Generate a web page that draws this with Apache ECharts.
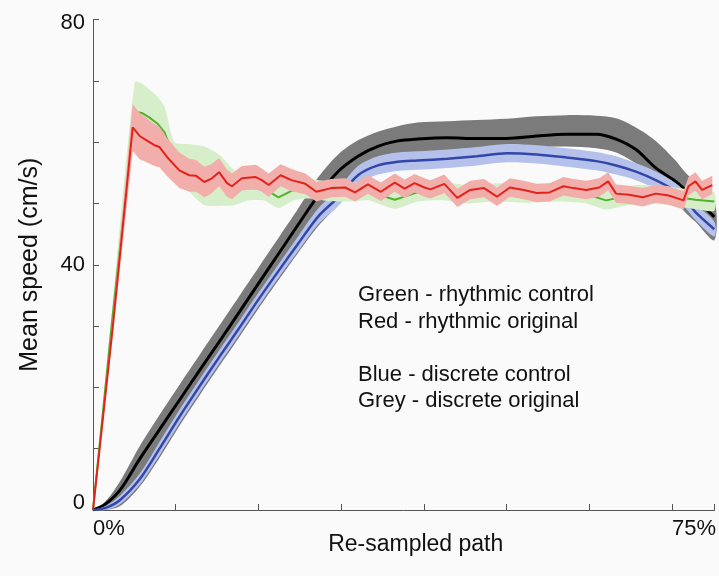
<!DOCTYPE html>
<html>
<head>
<meta charset="utf-8">
<title>Mean speed</title>
<script src="https://cdn.jsdelivr.net/npm/echarts@6/dist/echarts.min.js"></script>
<style>
  html, body { margin: 0; padding: 0; background: #fafafa; }
  #chart { width: 719px; height: 576px; }
</style>
</head>
<body>
<div id="chart"></div>
<script>
// discrete movements (grey = original, blue = control), x in % of re-sampled path
var discreteX = [0, 1.54, 3.47, 6.04, 8.61, 11.19, 13.76, 16.33, 18.9, 21.47, 24.04, 26.61, 29.19, 31.76, 34.33,
                 36.9, 39.47, 42.04, 45.9, 49.76, 53.61, 57.47, 61.33, 65.19, 67.76, 70.33, 72.9, 75.47, 76.76, 78.04, 80.49];
var greyMean = [0, 0.9, 3.2, 8.3, 13.1, 17.9, 22.7, 27.4, 32.2, 37.0, 41.8, 46.6, 51.3, 55.2, 57.7,
                59.3, 60.2, 60.5, 60.7, 60.6, 60.6, 61.0, 61.3, 61.3, 60.5, 58.8, 55.8, 53.6, 52.2, 50.8, 47.8];
var greyHigh = [0, 1.3, 4.6, 10.4, 15.5, 20.4, 25.2, 30.0, 34.8, 39.6, 44.4, 49.2, 54.3, 58.0, 60.3,
                61.7, 62.6, 63.2, 63.4, 63.6, 63.8, 64.2, 64.4, 64.3, 63.9, 62.4, 60.2, 57.0, 55.0, 53.5, 50.5];
var greyLow = [0, 0, 0.6, 3.8, 8.5, 13.7, 18.6, 23.4, 28.1, 32.9, 37.5, 42.0, 46.3, 49.7, 53.1,
               55.5, 56.8, 57.8, 58.4, 58.8, 59.0, 59.2, 59.3, 59.0, 58.3, 56.5, 54.0, 50.3, 48.5, 47.0, 44.0];
var blueMean = [0, 0.3, 1.6, 5.0, 10.0, 15.2, 20.1, 24.9, 29.6, 34.4, 39.0, 43.5, 47.9, 51.0, 54.6,
                56.2, 56.8, 57.0, 57.3, 57.7, 58.2, 58.0, 57.5, 56.9, 56.2, 55.2, 53.8, 52.0, 50.5, 48.6, 45.8];
var blueErr = [0, 0.3, 0.7, 0.9, 1.1, 1.1, 1.1, 1.1, 1.1, 1.1, 1.1, 1.2, 1.3, 1.4, 1.5,
               1.5, 1.5, 1.5, 1.5, 1.5, 1.5, 1.5, 1.5, 1.5, 1.5, 1.4, 1.4, 1.3, 1.3, 1.3, 1.2];

// rhythmic original (red)
var redX = [0, 2.57, 5.14, 6.04, 6.94, 7.97, 8.61, 9.64, 11.19, 12.47, 13.37, 14.4, 15.3, 16.33, 17.36, 18.0,
            19.29, 21.09, 21.86, 22.76, 24.3, 25.71, 27.51, 28.93, 30.86, 32.66, 33.94, 35.61, 37.29, 39.09,
            40.37, 41.66, 42.94, 43.71, 45.51, 47.19, 48.86, 50.66, 52.33, 54.0, 55.8, 57.47, 59.14, 60.94,
            62.23, 63.9, 65.57, 66.73, 67.76, 69.43, 71.23, 72.9, 74.57, 76.5, 77.14, 78.04, 78.9, 80.23];
var redMean = [0, 30, 62.4, 61.0, 60.3, 59.5, 59.2, 57.5, 55.4, 54.6, 54.5, 53.5, 54.0, 55.1, 53.3, 52.8,
               54.1, 54.3, 53.8, 53.0, 54.6, 53.8, 53.2, 51.9, 52.5, 52.6, 51.8, 53.1, 51.9, 53.4,
               52.4, 53.3, 52.6, 52.3, 53.2, 50.9, 52.2, 52.5, 51.1, 52.6, 52.2, 51.7, 51.8, 52.8,
               52.5, 52.2, 52.6, 53.6, 51.6, 51.4, 51.0, 51.6, 51.3, 50.5, 52.8, 53.6, 52.2, 53.0];
var redErr = [0, 1.5, 3.8, 3.8, 3.6, 3.4, 3.3, 3.1, 2.9, 2.7, 2.6, 2.5, 2.4, 2.3, 2.2, 2.1,
              2.0, 2.0, 1.9, 1.9, 1.8, 1.8, 1.7, 1.6, 1.5, 1.5, 1.5, 1.5, 1.5, 1.5,
              1.5, 1.5, 1.5, 1.5, 1.5, 1.5, 1.5, 1.5, 1.5, 1.5, 1.5, 1.5, 1.5, 1.5,
              1.5, 1.5, 1.5, 1.5, 1.5, 1.5, 1.5, 1.5, 1.5, 1.5, 1.5, 1.5, 1.5, 1.5];

// rhythmic control (green)
var greenX = [0, 2.57, 5.4, 6.43, 7.33, 8.36, 9.26, 10.54, 12.47, 14.4, 16.33, 18.26, 20.19, 22.11, 24.04, 25.97,
              27.9, 30.47, 33.04, 35.61, 39.09, 42.04, 45.26, 48.47, 52.33, 56.19, 60.04, 63.9, 66.47, 70.33,
              74.19, 78.04, 80.49];
var greenMean = [0, 32, 65.0, 64.7, 64.0, 63.0, 61.6, 57.5, 55.8, 54.5, 53.8, 52.6, 52.5, 52.4, 51.0, 52.2,
                 52.4, 52.0, 51.8, 52.0, 50.6, 51.8, 52.0, 51.5, 51.8, 51.6, 51.8, 51.5, 50.5, 51.5,
                 51.3, 50.6, 50.3];
var greenErr = [0, 2.0, 4.8, 4.8, 4.6, 4.4, 4.2, 2.5, 3.9, 4.8, 4.2, 2.9, 2.0, 1.9, 1.8, 1.7,
                1.6, 1.6, 1.5, 1.5, 1.5, 1.5, 1.5, 1.5, 1.5, 1.5, 1.5, 1.5, 1.5, 1.5,
                1.5, 1.5, 1.5];

var notes = ['Green - rhythmic control', 'Red - rhythmic original', '',
             'Blue - discrete control', 'Grey - discrete original'];

var FONT = '"Liberation Sans", Arial, sans-serif';

function pairs(xs, ys) {
    return xs.map(function (x, i) { return [x, ys[i]]; });
}

// shaded band between lo and hi as one polygon, mapped through the axes
function band(xs, lo, hi, color, smooth, z) {
    var rows = xs.map(function (x, i) { return [x, lo[i], hi[i]]; });
    return {
        type: 'custom', silent: true, data: rows, z: z,
        encode: { x: 0, y: [1, 2] },
        renderItem: function (params, api) {
            if (params.dataIndex !== 0) return;
            var top = rows.map(function (r) { return api.coord([r[0], r[2]]); });
            var bottom = rows.map(function (r) { return api.coord([r[0], r[1]]); }).reverse();
            return {
                type: 'polygon',
                shape: { points: top.concat(bottom), smooth: smooth || 0 },
                style: { fill: color }
            };
        }
    };
}

function line(xs, ys, color, width, smooth, z) {
    return { type: 'line', data: pairs(xs, ys), symbol: 'none', smooth: smooth, silent: true, z: z,
             lineStyle: { color: color, width: width } };
}

var blueLow = blueMean.map(function (v, i) { return v - blueErr[i]; });
var blueHigh = blueMean.map(function (v, i) { return v + blueErr[i]; });
var redLow = redMean.map(function (v, i) { return v - redErr[i]; });
var redHigh = redMean.map(function (v, i) { return v + redErr[i]; });
var greenLow = greenMean.map(function (v, i) { return v - greenErr[i]; });
var greenHigh = greenMean.map(function (v, i) { return v + greenErr[i]; });

var series = [
    band(discreteX, greyLow, greyHigh, '#7b7b7b', 0.3, 2),
    line(discreteX, greyMean, '#000000', 3, 0.3, 3),
    band(discreteX, blueLow, blueHigh, '#b5c1ea', 0.3, 4),
    line(discreteX, blueMean, '#3347a8', 2.5, 0.3, 5),
    band(greenX, greenLow, greenHigh, '#d6efca', 0.2, 6),
    line(greenX, greenMean, '#55b02c', 2, false, 7),
    band(redX, redLow, redHigh, '#f2aeab', 0, 8),
    line(redX, redMean, '#e3231b', 2, false, 9)
];

var chart = echarts.init(document.getElementById('chart'));
chart.setOption({
    animation: false,
    backgroundColor: '#fafafa',
    grid: { left: 93, right: 1, top: 19.5, bottom: 66 },
    xAxis: {
        type: 'value', min: 0, max: 80.5, interval: 75 / 7,
        name: 'Re-sampled path', nameLocation: 'middle', nameGap: 23, nameMoveOverlap: false,
        nameTextStyle: { fontFamily: FONT, fontSize: 23, color: '#111', padding: [0, 0, 0, 24] },
        axisLine: { lineStyle: { color: '#555', width: 1 } },
        axisTick: { inside: true, length: 6, lineStyle: { color: '#555' } },
        axisLabel: {
            fontFamily: FONT, fontSize: 22, color: '#111', align: 'left', margin: 8,
            formatter: function (v) {
                if (Math.abs(v) < 1e-6) return '0%';
                if (Math.abs(v - 75) < 1e-3) return '75%';
                return '';
            }
        },
        splitLine: { show: false }
    },
    yAxis: {
        type: 'value', min: 0, max: 80, interval: 10,
        name: 'Mean speed (cm/s)', nameLocation: 'middle', nameGap: 50, nameMoveOverlap: false,
        nameTextStyle: { fontFamily: FONT, fontSize: 25, color: '#111' },
        axisLine: { show: true, lineStyle: { color: '#555', width: 1 } },
        axisTick: { show: true, inside: true, length: 6, lineStyle: { color: '#555' } },
        axisLabel: {
            fontFamily: FONT, fontSize: 22, color: '#111', margin: 8,
            formatter: function (v) {
                if (v === 0) return '{lo|0}';
                if (v === 80) return '{hi|80}';
                if (v === 40) return '40';
                return '';
            },
            rich: {
                lo: { fontFamily: FONT, fontSize: 22, color: '#111', padding: [0, 0, 14, 0] },
                hi: { fontFamily: FONT, fontSize: 22, color: '#111', padding: [6, 0, 0, 0] }
            }
        },
        splitLine: { show: false }
    },
    graphic: [{
        type: 'text', left: 358, top: 282, silent: true, z: 100,
        style: { text: notes.join('\n'), fontFamily: FONT, fontSize: 22, lineHeight: 26.5, fill: '#111' }
    }],
    series: series
});
</script>
</body>
</html>
